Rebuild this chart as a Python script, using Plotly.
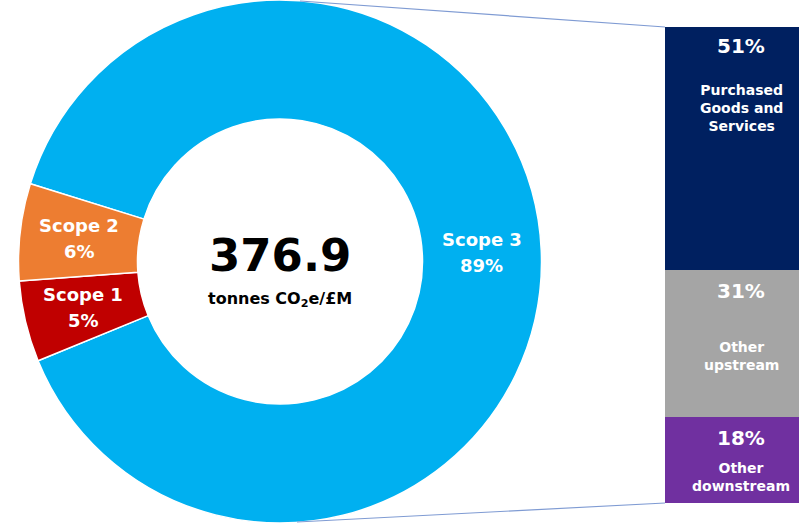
import math
import plotly.graph_objects as go

# Emissions intensity split by scope (donut)
scope_labels = ["Scope 3", "Scope 1", "Scope 2"]
scope_values = [89, 5, 6]
scope_colors = ["#00B0F0", "#C00000", "#ED7D31"]

# Scope 3 breakdown (stacked bar)
s3_labels = ["Purchased<br>Goods and<br>Services", "Other<br>upstream", "Other<br>downstream"]
s3_values = [51, 31, 18]
s3_colors = ["#002060", "#A5A5A5", "#7030A0"]

total_intensity = "376.9"
intensity_unit = "tonnes CO<sub>2</sub>e/£M"

W, H = 799, 523
FONT = "DejaVu Sans"

# donut geometry
pie_dom_x = [0, 560 / W]
hole = 0.545
rotation = 287.3
cx, cy = 280.0, H / 2
r_out = min(560, H) / 2
r_mid = r_out * (1 + hole) / 2

# bar geometry
bar_dom_x = [665 / W, 1.0]
bar_dom_y = [20 / H, 496 / H]
# per-segment text offsets (px below segment top)
pct_offset = [19, 21, 21]
lab_offset = [81, 86, 60]

fig = go.Figure()

fig.add_trace(go.Pie(
    labels=scope_labels, values=scope_values, sort=False,
    direction="clockwise", rotation=rotation, hole=hole,
    marker=dict(colors=scope_colors, line=dict(color="white", width=1.5)),
    textinfo="none", hoverinfo="label+percent", showlegend=False,
    domain=dict(x=pie_dom_x, y=[0, 1]),
))

# stacked bar, drawn bottom-up so the first category sits on top
for lab, val, col in zip(reversed(s3_labels), reversed(s3_values), reversed(s3_colors)):
    fig.add_trace(go.Bar(
        x=[0], y=[val], width=[1], marker=dict(color=col, line=dict(width=0)),
        name=lab, showlegend=False, hoverinfo="y",
    ))

annotations = []

# scope labels at the middle of each ring slice
tot = sum(scope_values)
ang = rotation
for lab, val in zip(scope_labels, scope_values):
    span = val / tot * 360
    mid = math.radians(ang + span / 2)
    ang += span
    px = cx + r_mid * math.sin(mid)
    py = cy - r_mid * math.cos(mid)
    for txt, dy in ((lab, -13), (f"{val}%", 13)):
        annotations.append(dict(
            x=px / W, y=1 - (py + dy) / H, xref="paper", yref="paper",
            text=txt, showarrow=False, xanchor="center", yanchor="middle",
            font=dict(family=FONT, size=18, color="white", weight="bold"),
        ))

# centre figure
annotations.append(dict(
    x=cx / W, y=1 - 255 / H, xref="paper", yref="paper", text=total_intensity,
    showarrow=False, font=dict(family=FONT, size=45, color="black", weight="bold"),
))
annotations.append(dict(
    x=cx / W, y=1 - 299 / H, xref="paper", yref="paper", text=intensity_unit,
    showarrow=False, font=dict(family=FONT, size=16, color="black", weight="bold"),
))

# bar segment labels
top = 100
for i, (lab, val) in enumerate(zip(s3_labels, s3_values)):
    annotations.append(dict(
        x=0, y=top, xref="x", yref="y", text=f"{val}%", showarrow=False,
        yanchor="middle", yshift=-pct_offset[i],
        font=dict(family=FONT, size=20, color="white", weight="bold"),
    ))
    annotations.append(dict(
        x=0, y=top, xref="x", yref="y", text=lab, showarrow=False,
        yanchor="middle", yshift=-lab_offset[i],
        font=dict(family=FONT, size=14, color="white", weight="bold"),
    ))
    top -= val

bar_top = bar_dom_y[1]
bar_bot = bar_dom_y[0]
shapes = [
    dict(type="line", xref="paper", yref="paper",
         x0=300 / W, y0=1 - 1 / H, x1=bar_dom_x[0], y1=bar_top,
         line=dict(color="#7F9BD3", width=1.2)),
    dict(type="line", xref="paper", yref="paper",
         x0=297 / W, y0=1 - 522 / H, x1=bar_dom_x[0], y1=bar_bot,
         line=dict(color="#7F9BD3", width=1.2)),
]

fig.update_layout(
    width=W, height=H, margin=dict(l=0, r=0, t=0, b=0),
    paper_bgcolor="white", plot_bgcolor="white",
    barmode="stack", bargap=0,
    xaxis=dict(domain=bar_dom_x, range=[-0.5, 0.38], visible=False, fixedrange=True),
    yaxis=dict(domain=bar_dom_y, range=[0, 100], visible=False, fixedrange=True),
    annotations=annotations, shapes=shapes,
)

fig.write_html("out.html")
